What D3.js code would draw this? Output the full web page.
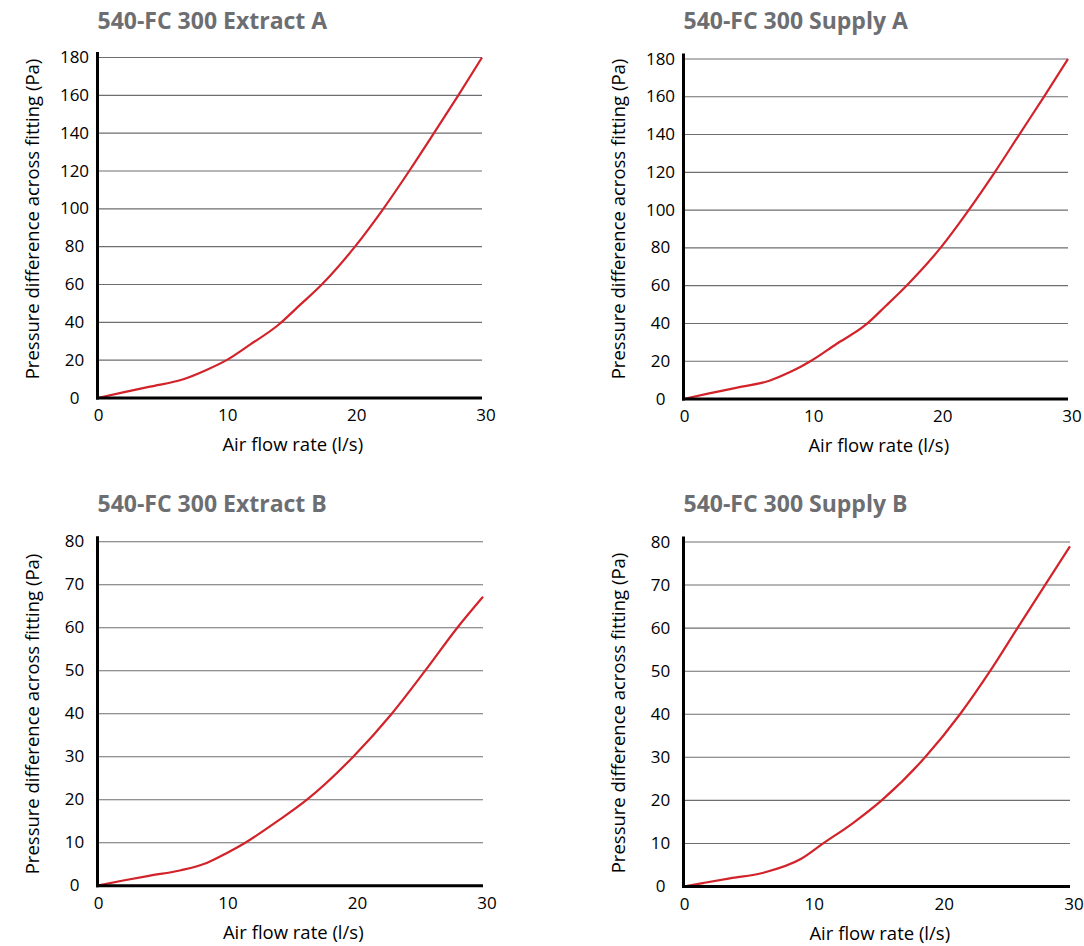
<!DOCTYPE html>
<html>
<head>
<meta charset="utf-8">
<script src="https://cdn.jsdelivr.net/npm/d3@7"></script>
<style>
  html, body { margin: 0; padding: 0; background: #fff; }
  svg { display: block; }
  text { font-family: "Open Sans", "Noto Sans", sans-serif; }
</style>
</head>
<body>
<svg id="chart" width="1084" height="946"></svg>
<script>
// ---- Data ----
const titles = ["540-FC 300 Extract A", "540-FC 300 Supply A", "540-FC 300 Extract B", "540-FC 300 Supply B"];
const xLabel = "Air flow rate (l/s)";
const yLabel = "Pressure difference across fitting (Pa)";
const xTicks = [0, 10, 20, 30];
const yTicksA = [0, 20, 40, 60, 80, 100, 120, 140, 160, 180];
const yTicksB = [0, 10, 20, 30, 40, 50, 60, 70, 80];

const flowExtractA   = [0, 2, 4.1, 6.7, 8.5, 10.07, 11.9, 14.1, 15.8, 17.5, 20.09, 22.3, 24.32, 26.25, 28.15, 30];
const pressExtractA  = [0, 3, 6, 9.9, 14.8, 20, 28.2, 38.6, 49.2, 60, 80, 100, 120, 140, 160, 180];

const flowSupplyA    = [0, 2, 4.1, 6.7, 8.4, 9.9, 11.9, 14.2, 15.8, 17.4, 20.05, 22.25, 24.28, 26.2, 28.12, 30];
const pressSupplyA   = [0, 3, 5.9, 9.7, 14.5, 20, 29, 39.2, 49.4, 60, 80, 100, 120, 140, 160, 180];

const flowExtractB   = [0, 2, 4, 6.5, 8.5, 10, 11.5, 14, 16.3, 19.9, 22.9, 25.5, 28, 30];
const pressExtractB  = [0, 1.2, 2.3, 3.6, 5.3, 7.5, 10, 15, 20, 30, 40, 50, 60, 67.2];

const flowSupplyB    = [0, 1.5, 3.6, 6.2, 9.17, 10.84, 13.18, 15.38, 18.75, 21.46, 23.79, 25.92, 28.06, 30];
const pressSupplyB   = [0, 0.8, 1.9, 3.2, 6.5, 10, 14.8, 20, 30, 40, 50, 60, 70, 79];

// ---- Layout ----
const panels = [
  { title: titles[0], xs: flowExtractA, ys: pressExtractA, yMax: 180, yTicks: yTicksA,
    left: 97.5, right: 482, top: 57.5, bottom: 398, titleY: 28.5, yTitleY: 219 },
  { title: titles[1], xs: flowSupplyA, ys: pressSupplyA, yMax: 180, yTicks: yTicksA,
    left: 683.5, right: 1068, top: 59, bottom: 399, titleY: 29, yTitleY: 219 },
  { title: titles[2], xs: flowExtractB, ys: pressExtractB, yMax: 80, yTicks: yTicksB,
    left: 97.5, right: 483, top: 541.7, bottom: 885.7, titleY: 511.5, yTitleY: 714 },
  { title: titles[3], xs: flowSupplyB, ys: pressSupplyB, yMax: 80, yTicks: yTicksB,
    left: 683.5, right: 1070, top: 542, bottom: 886.5, titleY: 512, yTitleY: 713 }
];

const svg = d3.select("#chart");
const GRID = "#6d6e71", AXIS = "#000", RED = "#d2232a", TITLE = "#6d6e71";

panels.forEach(p => {
  const x = d3.scaleLinear().domain([0, 30]).range([p.left, p.right]);
  const y = d3.scaleLinear().domain([0, p.yMax]).range([p.bottom, p.top]);
  const g = svg.append("g");

  // Title
  g.append("text")
    .attr("x", p.left).attr("y", p.titleY)
    .attr("fill", TITLE).attr("font-weight", "bold").attr("font-size", 23)
    .text(p.title);

  // Gridlines
  g.selectAll("line.grid").data(p.yTicks.filter(v => v > 0)).enter().append("line")
    .attr("x1", p.left).attr("x2", p.right)
    .attr("y1", d => y(d)).attr("y2", d => y(d))
    .attr("stroke", GRID).attr("stroke-width", 1.1);

  // Y tick labels
  g.selectAll("text.yt").data(p.yTicks).enter().append("text")
    .attr("x", p.left - 23).attr("y", d => y(d) + 5.5)
    .attr("text-anchor", "middle").attr("font-size", 17).attr("fill", "#000")
    .text(d => d);

  // X tick labels
  g.selectAll("text.xt").data(xTicks).enter().append("text")
    .attr("x", d => x(d) + 1 + d * 0.1).attr("y", p.bottom + 23)
    .attr("text-anchor", "middle").attr("font-size", 17).attr("fill", "#000")
    .text(d => d);

  // Axis titles
  g.append("text")
    .attr("x", (p.left + p.right) / 2 + 3).attr("y", p.bottom + 53)
    .attr("text-anchor", "middle").attr("font-size", 18.5).attr("fill", "#000")
    .text(xLabel);
  g.append("text")
    .attr("transform", `translate(${p.left - 59},${p.yTitleY}) rotate(-90)`)
    .attr("text-anchor", "middle").attr("font-size", 18.5).attr("fill", "#000")
    .text(yLabel);

  // Curve
  const pts = p.xs.map((v, i) => [v, p.ys[i]]);
  const line = d3.line().x(d => x(d[0])).y(d => y(d[1])).curve(d3.curveMonotoneX);
  g.append("path").attr("d", line(pts))
    .attr("fill", "none").attr("stroke", RED).attr("stroke-width", 2.2)
    .attr("stroke-linejoin", "round");

  // Axes
  g.append("line")
    .attr("x1", p.left).attr("x2", p.left)
    .attr("y1", p.top - 5.5).attr("y2", p.bottom + 1.5)
    .attr("stroke", AXIS).attr("stroke-width", 3);
  g.append("line")
    .attr("x1", p.left - 1.5).attr("x2", p.right)
    .attr("y1", p.bottom).attr("y2", p.bottom)
    .attr("stroke", AXIS).attr("stroke-width", 3);
});
</script>
</body>
</html>
